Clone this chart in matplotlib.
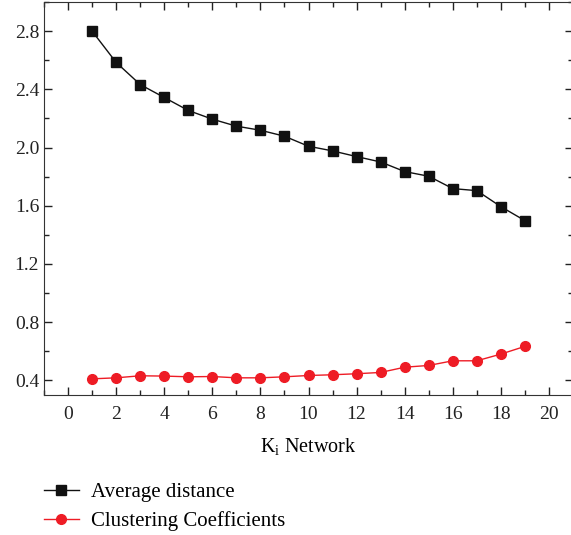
import numpy as np
import matplotlib.pyplot as plt
from matplotlib.ticker import MultipleLocator

plt.rcParams['font.family'] = ['Liberation Serif', 'DejaVu Serif']

# data
k = [1, 2, 3, 4, 5, 6, 7, 8, 9, 10, 11, 12, 13, 14, 15, 16, 17, 18, 19]
avgDist = [2.80, 2.585, 2.433, 2.344, 2.255, 2.195, 2.147, 2.119, 2.078, 2.009,
           1.977, 1.938, 1.901, 1.835, 1.803, 1.718, 1.704, 1.594, 1.498]
clustCoef = [0.411, 0.418, 0.432, 0.430, 0.425, 0.427, 0.418, 0.418, 0.425, 0.434,
             0.439, 0.446, 0.455, 0.491, 0.503, 0.535, 0.535, 0.581, 0.634]

fig = plt.figure(figsize=(5.71, 5.35), dpi=100)
ax = fig.add_axes([44/571, 140/535, 529/571, 393/535])

ax.plot(k, avgDist, color='#111111', lw=1, marker='s', ms=6.5,
        label='Average distance')
ax.plot(k, clustCoef, color='#ee1c25', lw=1, marker='o', ms=7,
        label='Clustering Coefficients')

ax.set_xlim(-1, 21)
ax.set_ylim(0.3, 3.0)
ax.xaxis.set_major_locator(MultipleLocator(2))
ax.xaxis.set_minor_locator(MultipleLocator(1))
ax.yaxis.set_major_locator(MultipleLocator(0.4))
ax.yaxis.set_minor_locator(MultipleLocator(0.2))
ax.yaxis.set_major_formatter(plt.FormatStrFormatter('%.1f'))
ax.tick_params(which='both', direction='in', top=True, right=True,
               labelsize=14, colors='#222222')
ax.tick_params(which='major', length=6, width=1)
ax.tick_params(which='minor', length=3.5, width=1)
ax.tick_params(axis='x', pad=8)
for s in ax.spines.values():
    s.set_color('#333333')

ax.set_xlabel('K$_\\mathregular{i}$ Network', fontsize=14.5, labelpad=10)

fig.legend(loc='upper left', bbox_to_anchor=(0.062, 0.114), frameon=False,
           fontsize=15, handlelength=1.7, handletextpad=0.55, labelspacing=0.45,
           borderaxespad=0)

fig.savefig('out.png', dpi=100)
